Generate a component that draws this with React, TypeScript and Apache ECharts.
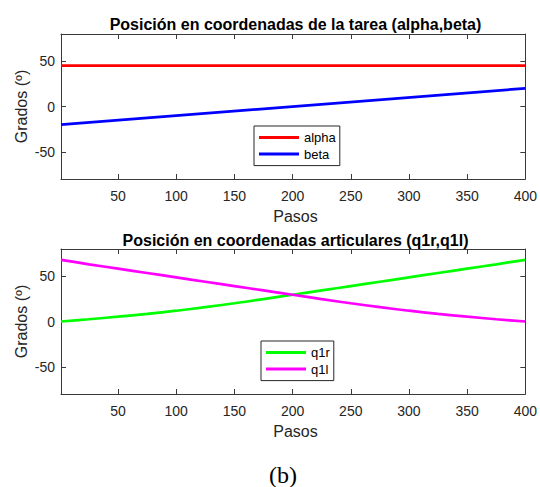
import React, { useEffect, useRef } from "react";
import * as echarts from "echarts";

const taskSteps = [1, 400];
const alpha = [45, 45];
const beta = [-20, 20];

const steps = [1, 25, 50, 75, 100, 125, 150, 175, 200, 225, 250, 275, 300, 325, 350, 375, 400];
const q1r = [0, 2.5, 5.3, 8.4, 11.9, 15.8, 20.1, 24.7, 29.5, 34.3, 39.1, 43.9, 48.7, 53.5, 58.3, 63.1, 68];
const q1l = [68, 63.1, 58.3, 53.5, 48.7, 43.9, 39.1, 34.3, 29.5, 24.7, 20.1, 15.8, 11.9, 8.4, 5.3, 2.5, 0];

const xTicks = [50, 100, 150, 200, 250, 300, 350, 400];
const yTicks = [-50, 0, 50];

const title1 = "Posición en coordenadas de la tarea (alpha,beta)";
const title2 = "Posición en coordenadas articulares (q1r,q1l)";
const xName = "Pasos";
const yName = "Grados (º)";
const caption = "(b)";

const FONT = "'Liberation Sans', Arial, Helvetica, sans-serif";
const AXIS = "#3a3a3a";
const TEXT = "#262626";

const pairs = (xs: number[], ys: number[]) => xs.map((x, i) => [x, ys[i]]);

export default function App() {
  const ref = useRef<HTMLDivElement>(null);
  useEffect(() => {
    if (!ref.current) return;
    const chart = echarts.init(ref.current, undefined, { renderer: "svg" });

    const grids = [
      { left: 61, top: 34, width: 469, height: 145 },
      { left: 61, top: 249, width: 469, height: 145 },
    ];

    const mkX = (gi: number, pos: "bottom" | "top") => ({
      type: "value",
      gridIndex: gi,
      position: pos,
      min: 1,
      max: 400,
      axisLine: { show: true, onZero: false, lineStyle: { color: AXIS, width: 1 } },
      axisTick: { show: true, inside: true, length: 5, customValues: xTicks, lineStyle: { color: AXIS } },
      axisLabel: {
        show: pos === "bottom",
        customValues: xTicks,
        margin: 10,
        color: TEXT,
        fontSize: 14,
        fontFamily: FONT,
      },
      splitLine: { show: false },
    });
    const mkY = (gi: number, pos: "left" | "right") => ({
      type: "value",
      gridIndex: gi,
      position: pos,
      min: -80,
      max: 80,
      axisLine: { show: true, onZero: false, lineStyle: { color: AXIS, width: 1 } },
      axisTick: { show: true, inside: true, length: 5, customValues: yTicks, lineStyle: { color: AXIS } },
      axisLabel: {
        show: pos === "left",
        customValues: yTicks,
        margin: 6,
        color: TEXT,
        fontSize: 14,
        fontFamily: FONT,
      },
      splitLine: { show: false },
    });

    const legendBase = {
      orient: "vertical",
      icon: "rect",
      itemWidth: 40,
      itemHeight: 3,
      itemGap: 2.6,
      padding: [4.5, 4, 4.5, 5],
      borderColor: "#262626",
      borderWidth: 1,
      backgroundColor: "#ffffff",
      textStyle: { fontSize: 13, lineHeight: 14, fontFamily: FONT, color: "#000" },
      selectedMode: false,
    };

    const textEl = (x: number, y: number, text: string, extra: any = {}) => ({
      type: "text",
      x,
      y,
      style: {
        text,
        fill: extra.fill || TEXT,
        font: extra.font || `15px ${FONT}`,
        textAlign: "center",
        textVerticalAlign: "middle",
      },
      rotation: extra.rotation || 0,
    });

    chart.setOption({
      animation: false,
      backgroundColor: "#ffffff",
      grid: grids,
      xAxis: [mkX(0, "bottom"), mkX(0, "top"), mkX(1, "bottom"), mkX(1, "top")],
      yAxis: [mkY(0, "left"), mkY(0, "right"), mkY(1, "left"), mkY(1, "right")],
      legend: [
        { ...legendBase, left: 254, top: 126, data: ["alpha", "beta"] },
        { ...legendBase, left: 261, top: 341, data: ["q1r", "q1l"] },
      ],
      series: [
        { name: "alpha", type: "line", xAxisIndex: 0, yAxisIndex: 0, data: pairs(taskSteps, alpha), symbol: "none", lineStyle: { color: "#ff0000", width: 2.7 }, itemStyle: { color: "#ff0000" } },
        { name: "beta", type: "line", xAxisIndex: 0, yAxisIndex: 0, data: pairs(taskSteps, beta), symbol: "none", lineStyle: { color: "#0000ff", width: 2.7 }, itemStyle: { color: "#0000ff" } },
        { name: "q1r", type: "line", xAxisIndex: 2, yAxisIndex: 2, data: pairs(steps, q1r), symbol: "none", smooth: 0.2, lineStyle: { color: "#00ff00", width: 2.7 }, itemStyle: { color: "#00ff00" } },
        { name: "q1l", type: "line", xAxisIndex: 2, yAxisIndex: 2, data: pairs(steps, q1l), symbol: "none", smooth: 0.2, lineStyle: { color: "#ff00ff", width: 2.7 }, itemStyle: { color: "#ff00ff" } },
      ],
      graphic: [
        textEl(295.5, 24, title1, { font: `bold 16px ${FONT}`, fill: "#000" }),
        textEl(295.5, 240, title2, { font: `bold 16px ${FONT}`, fill: "#000" }),
        textEl(295.5, 216, xName, { font: `16px ${FONT}` }),
        textEl(295.5, 431, xName, { font: `16px ${FONT}` }),
        textEl(21.5, 106.5, yName, { rotation: Math.PI / 2, font: `16px ${FONT}` }),
        textEl(21.5, 321.5, yName, { rotation: Math.PI / 2, font: `16px ${FONT}` }),
        textEl(283, 475, caption, { font: `24px 'Liberation Serif', 'DejaVu Serif', serif`, fill: "#000" }),
      ],
    });
    return () => chart.dispose();
  }, []);
  return <div ref={ref} style={{ position: "fixed", left: 0, top: 0, width: 540, height: 487 }} />;
}
